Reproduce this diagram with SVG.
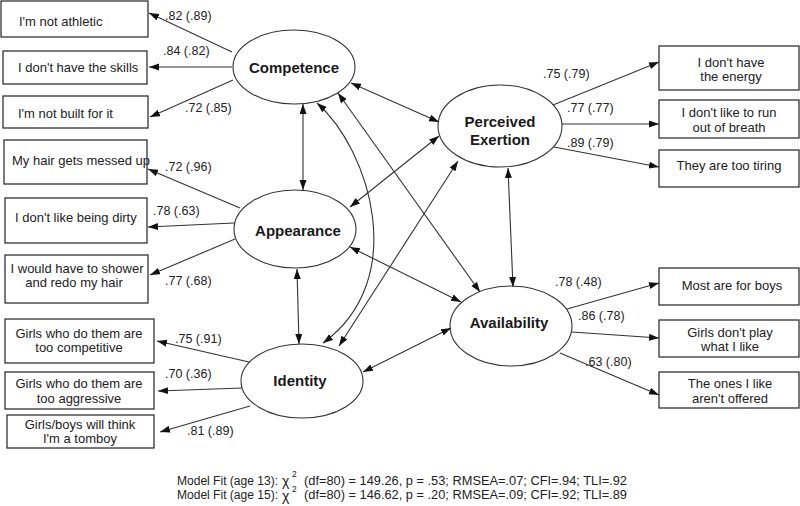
<svg xmlns="http://www.w3.org/2000/svg" width="800" height="506" viewBox="0 0 800 506">
<style>
.box{fill:#fff;stroke:#222;stroke-width:1.2}
.lat{fill:#fff;stroke:#333;stroke-width:1.1}
.t{font-family:"Liberation Sans",Arial,sans-serif;font-size:13px;fill:#222}
.m{text-anchor:middle}
.lt{font-family:"Liberation Sans",Arial,sans-serif;font-size:15px;font-weight:bold;fill:#1a1a1a;text-anchor:middle}
.c{font-family:"Liberation Sans",Arial,sans-serif;font-size:12.5px;fill:#222}
.f{font-family:"Liberation Sans",Arial,sans-serif;font-size:12.5px;fill:#222}
.chi{font-family:"Liberation Sans",Arial,sans-serif;font-size:14px;fill:#222}
.sup{font-family:"Liberation Sans",Arial,sans-serif;font-size:8.5px;fill:#222}
.ln{stroke:#333;stroke-width:1.1;fill:none;marker-end:url(#ah)}
.dl{stroke:#333;stroke-width:1.1;fill:none;marker-start:url(#ah);marker-end:url(#ah)}
</style>
<defs>
<marker id="ah" markerUnits="userSpaceOnUse" markerWidth="11" markerHeight="8" refX="10" refY="3.5" orient="auto-start-reverse">
<path d="M0,0 L10,3.5 L0,7 z" fill="#111"/>
</marker>
</defs>
<rect width="800" height="506" fill="#fff"/>

<g id="box-athletic"><rect class="box" x="1" y="1" width="147" height="36"/><text class="t" x="19" y="26">I'm not athletic</text></g>
<g id="box-skills"><rect class="box" x="3" y="51" width="144" height="33"/><text class="t" x="18" y="72">I don't have the skills</text></g>
<g id="box-built"><rect class="box" x="3" y="96" width="145" height="32"/><text class="t" x="18" y="118">I'm not built for it</text></g>
<g id="box-hair"><rect class="box" x="4" y="140" width="143" height="44"/><text class="t" x="12" y="165">My hair gets messed up</text></g>
<g id="box-dirty"><rect class="box" x="5" y="198" width="142" height="45"/><text class="t" x="15" y="222">I don't like being dirty</text></g>
<g id="box-shower"><rect class="box" x="5" y="255" width="143" height="48"/><text class="t m" x="77" y="273">I would have to shower</text><text class="t m" x="74" y="287">and redo my hair</text></g>
<g id="box-competitive"><rect class="box" x="5" y="319" width="149" height="44"/><text class="t m" x="79" y="338">Girls who do them are</text><text class="t m" x="79" y="352">too competitive</text></g>
<g id="box-aggressive"><rect class="box" x="5" y="372" width="149" height="37"/><text class="t m" x="79" y="388">Girls who do them are</text><text class="t m" x="79" y="403">too aggressive</text></g>
<g id="box-tomboy"><rect class="box" x="7" y="415" width="147" height="33"/><text class="t m" x="80" y="429">Girls/boys will think</text><text class="t m" x="80" y="443">I'm a tomboy</text></g>

<g id="box-energy"><rect class="box" x="659" y="46" width="140" height="44"/><text class="t m" x="731" y="67">I don't have</text><text class="t m" x="731" y="81">the energy</text></g>
<g id="box-breath"><rect class="box" x="659" y="100" width="140" height="38"/><text class="t m" x="729" y="117">I don't like to run</text><text class="t m" x="729" y="132">out of breath</text></g>
<g id="box-tiring"><rect class="box" x="659" y="150" width="140" height="37"/><text class="t m" x="729" y="170">They are too tiring</text></g>
<g id="box-boys"><rect class="box" x="659" y="268" width="140" height="37"/><text class="t m" x="732" y="290">Most are for boys</text></g>
<g id="box-play"><rect class="box" x="659" y="320" width="140" height="37"/><text class="t m" x="730" y="337">Girls don't play</text><text class="t m" x="730" y="351">what I like</text></g>
<g id="box-offered"><rect class="box" x="659" y="372" width="140" height="36"/><text class="t m" x="730" y="388">The ones I like</text><text class="t m" x="730" y="403">aren't offered</text></g>

<g id="competence"><ellipse class="lat" cx="294" cy="67" rx="61" ry="37"/><text class="lt" x="294" y="73">Competence</text></g>
<g id="appearance"><ellipse class="lat" cx="295" cy="229" rx="61" ry="39"/><text class="lt" x="298" y="236">Appearance</text></g>
<g id="identity"><ellipse class="lat" cx="302" cy="381" rx="61" ry="37"/><text class="lt" x="300" y="386">Identity</text></g>
<g id="perceived-exertion"><ellipse class="lat" cx="500" cy="126" rx="62" ry="41"/><text class="lt" x="500" y="127">Perceived</text><text class="lt" x="500" y="145">Exertion</text></g>
<g id="availability"><ellipse class="lat" cx="511" cy="326" rx="61" ry="40"/><text class="lt" x="509" y="328">Availability</text></g>

<g id="connectors">
<line class="ln" x1="232" y1="52" x2="149" y2="13"/>
<line class="ln" x1="232" y1="67" x2="149" y2="67"/>
<line class="ln" x1="233" y1="80" x2="150" y2="117"/>
<line class="ln" x1="240" y1="208" x2="148" y2="169"/>
<line class="ln" x1="234" y1="223" x2="148" y2="227"/>
<line class="ln" x1="235" y1="239" x2="150" y2="275"/>
<line class="ln" x1="249" y1="362" x2="157" y2="341"/>
<line class="ln" x1="242" y1="388" x2="158" y2="391"/>
<line class="ln" x1="250" y1="406" x2="160" y2="432"/>
<line class="ln" x1="553" y1="105" x2="659" y2="62"/>
<line class="ln" x1="562" y1="124" x2="659" y2="124"/>
<line class="ln" x1="554" y1="147" x2="659" y2="167"/>
<line class="ln" x1="567" y1="309" x2="659" y2="283"/>
<line class="ln" x1="572" y1="332" x2="659" y2="338"/>
<line class="ln" x1="560" y1="353" x2="659" y2="395"/>

<line class="dl" x1="303" y1="104" x2="303" y2="190"/>
<line class="dl" x1="351" y1="83" x2="439" y2="122"/>
<line class="dl" x1="350" y1="207" x2="439" y2="136"/>
<path class="dl" d="M317,103 C370,150 410,280 323,343"/>
<line class="dl" x1="338" y1="93" x2="480" y2="292"/>
<line class="dl" x1="458" y1="161" x2="339" y2="346"/>
<line class="dl" x1="508" y1="168" x2="513" y2="287"/>
<line class="dl" x1="350" y1="247" x2="461" y2="302"/>
<line class="dl" x1="297" y1="269" x2="299" y2="344"/>
<line class="dl" x1="363" y1="372" x2="451" y2="328"/>
</g>

<g id="coefficients">
<text class="c" x="165" y="20">.82 (.89)</text>
<text class="c" x="163" y="55">.84 (.82)</text>
<text class="c" x="185" y="112">.72 (.85)</text>
<text class="c" x="165" y="171">.72 (.96)</text>
<text class="c" x="153" y="215">.78 (.63)</text>
<text class="c" x="165" y="285">.77 (.68)</text>
<text class="c" x="175" y="343">.75 (.91)</text>
<text class="c" x="165" y="378">.70 (.36)</text>
<text class="c" x="187" y="435">.81 (.89)</text>
<text class="c" x="543" y="78">.75 (.79)</text>
<text class="c" x="567" y="112">.77 (.77)</text>
<text class="c" x="567" y="147">.89 (.79)</text>
<text class="c" x="555" y="286">.78 (.48)</text>
<text class="c" x="578" y="320">.86 (.78)</text>
<text class="c" x="585" y="366">.63 (.80)</text>
</g>

<g id="model-fit">
<text class="f" x="177" y="485" textLength="101" lengthAdjust="spacingAndGlyphs">Model Fit (age 13):</text>
<text class="chi" x="282" y="486">χ</text>
<text class="sup" x="292" y="477">2</text>
<text class="f" x="304" y="485" textLength="323" lengthAdjust="spacingAndGlyphs">(df=80) = 149.26, p = .53; RMSEA=.07; CFI=.94; TLI=.92</text>
<text class="f" x="177" y="499" textLength="101" lengthAdjust="spacingAndGlyphs">Model Fit (age 15):</text>
<text class="chi" x="282" y="501">χ</text>
<text class="sup" x="292" y="492">2</text>
<text class="f" x="304" y="499" textLength="323" lengthAdjust="spacingAndGlyphs">(df=80) = 146.62, p = .20; RMSEA=.09; CFI=.92; TLI=.89</text>
</g>
</svg>
